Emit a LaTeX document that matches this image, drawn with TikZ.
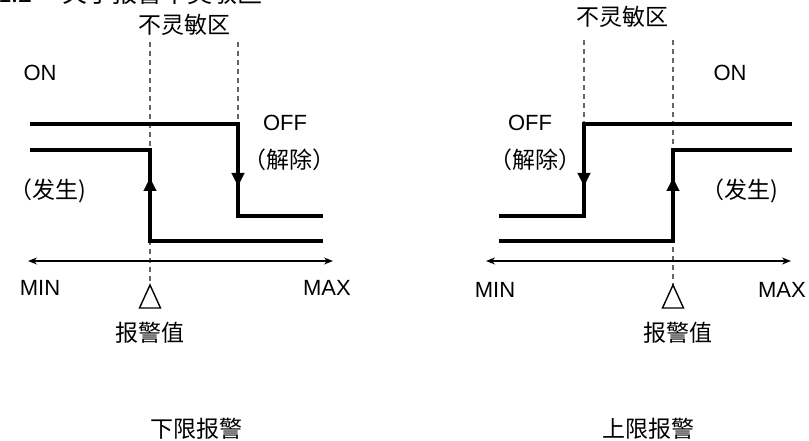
\documentclass[tikz,border=0pt]{standalone}
\usepackage{fontspec}
\setmainfont{Liberation Sans}
\newfontfamily\cjk{Noto Sans CJK SC}
\usetikzlibrary{arrows.meta}
\begin{document}
\begin{tikzpicture}[x=1pt,y=-1pt,
  lbl/.style={inner sep=0pt,font=\fontsize{22}{24}\selectfont},
  clbl/.style={inner sep=0pt,font=\fontsize{23}{25}\selectfont\cjk},
  sigline/.style={line width=3.6pt,line join=miter},
  axisln/.style={line width=1.4pt,{Stealth[length=9pt,width=7pt]}-{Stealth[length=9pt,width=7pt]}},
  guideline/.style={line width=1.5pt,black!60,dash pattern=on 5pt off 4pt},
  arrowtip/.style={line width=0.1pt,-{Triangle[length=13pt,width=13pt]}},
  marker/.style={line width=1.4pt,line join=miter}]
\useasboundingbox (0,0) rectangle (809,441);
% clipped heading
\node[inner sep=0pt,font=\fontsize{25}{27}\selectfont\cjk,anchor=base east] (head) at (263,2.5) {1.2\hspace{30pt}关于报警不灵敏区};

% ---------- left: lower-limit alarm ----------
\coordinate (La1) at (30,124);  \coordinate (La2) at (238,124);
\coordinate (La3) at (238,216); \coordinate (La4) at (323,216);
\coordinate (Lb1) at (30,150);  \coordinate (Lb2) at (150,150);
\coordinate (Lb3) at (150,241); \coordinate (Lb4) at (323,241);
\coordinate (Lax1) at (28,261); \coordinate (Lax2) at (333,261);
\coordinate (Ld1) at (150,42);  \coordinate (Ld2) at (150,285);
\coordinate (Ld3) at (238,42);
\draw[guideline] (Ld1) -- (Ld2);
\draw[guideline] (Ld3) -- (La2);
\draw[sigline] (La1) -- (La2) -- (La3) -- (La4);
\draw[sigline] (Lb1) -- (Lb2) -- (Lb3) -- (Lb4);
\draw[arrowtip] (238,170) -- (238,186);
\draw[arrowtip] (150,195) -- (150,178);
\draw[axisln] (Lax1) -- (Lax2);
\draw[marker] (150,285) -- (160.5,308) -- (139.5,308) -- cycle;
\node[clbl] (Lzone) at (184,25) {不灵敏区};
\node[lbl] (Lon) at (40,73) {ON};
\node[lbl] (Loff) at (285,123) {OFF};
\node[clbl] (Lrel) at (289,160) {（解除）};
\node[clbl] (Locc) at (48,191) {（发生)};
\node[lbl] (Lmin) at (40,288) {MIN};
\node[lbl] (Lmax) at (327,288) {MAX};
\node[clbl] (Lval) at (150,333) {报警值};
\node[clbl] (Ltitle) at (196,429) {下限报警};

% ---------- right: upper-limit alarm ----------
\coordinate (Ra1) at (499,216); \coordinate (Ra2) at (584,216);
\coordinate (Ra3) at (584,124); \coordinate (Ra4) at (792,124);
\coordinate (Rb1) at (499,241); \coordinate (Rb2) at (673,241);
\coordinate (Rb3) at (673,150); \coordinate (Rb4) at (792,150);
\coordinate (Rax1) at (486,261); \coordinate (Rax2) at (791,261);
\coordinate (Rd1) at (584,40);
\coordinate (Rd2) at (673,40); \coordinate (Rd3) at (673,285);
\draw[guideline] (Rd1) -- (Ra3);
\draw[guideline] (Rd2) -- (Rd3);
\draw[sigline] (Ra1) -- (Ra2) -- (Ra3) -- (Ra4);
\draw[sigline] (Rb1) -- (Rb2) -- (Rb3) -- (Rb4);
\draw[arrowtip] (584,170) -- (584,186);
\draw[arrowtip] (673,195) -- (673,178);
\draw[axisln] (Rax1) -- (Rax2);
\draw[marker] (673,285) -- (683.5,308) -- (662.5,308) -- cycle;
\node[clbl] (Rzone) at (622,17) {不灵敏区};
\node[lbl] (Ron) at (730,73) {ON};
\node[lbl] (Roff) at (530,123) {OFF};
\node[clbl] (Rrel) at (535,160) {（解除）};
\node[clbl] (Rocc) at (740,191) {（发生)};
\node[lbl] (Rmin) at (495,290) {MIN};
\node[lbl] (Rmax) at (782,290) {MAX};
\node[clbl] (Rval) at (678,333) {报警值};
\node[clbl] (Rtitle) at (648,429) {上限报警};
\end{tikzpicture}
\end{document}
